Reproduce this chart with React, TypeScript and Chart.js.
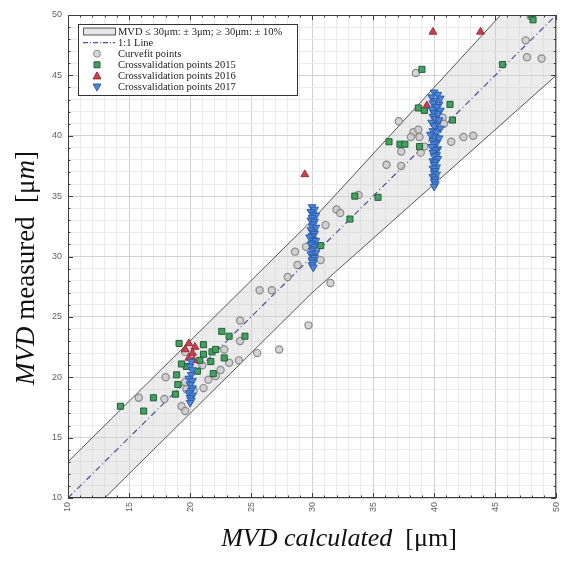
import React, { useEffect, useRef } from 'react';
import { Chart, registerables } from 'chart.js';

Chart.register(...registerables);

// ---- axis / tick data ----
const axisMin = 10;
const axisMax = 50;
const majorTicks = [10, 15, 20, 25, 30, 35, 40, 45, 50];

// ---- tolerance band (MVD <= 30: +-3um, >= 30: +-10%) ----
const bandX = [10, 30, 50];
const bandUpper = [13, 33, 55];
const bandLower = [7, 27, 45];

// ---- 1:1 line ----
const identityX = [10, 50];
const identityY = [10, 50];

// ---- Curvefit points ----
const curvefitPoints: [number, number][] = [
  [15.8, 18.3], [17.9, 18.2], [18.0, 20.0], [19.3, 17.6], [19.6, 17.2], [19.6, 22.1],
  [19.6, 19.6], [19.7, 19.0], [20.3, 18.9], [21.1, 19.1], [21.5, 19.8], [22.1, 20.1],
  [22.5, 20.6], [22.8, 22.3], [23.2, 21.2], [24.0, 21.4], [24.1, 24.7], [24.1, 23.0],
  [21.0, 21.0], [25.5, 22.0], [27.3, 22.3],
  [25.7, 27.2], [26.7, 27.2], [28.0, 28.3], [28.8, 29.3], [28.6, 30.4], [29.7, 24.3],
  [29.5, 30.8], [31.1, 32.6], [30.7, 29.7], [31.5, 27.8], [32.0, 33.9], [32.3, 33.6],
  [33.8, 35.1],
  [38.5, 45.2], [37.1, 41.2], [38.3, 40.3], [38.7, 40.5], [38.1, 39.9], [38.8, 39.9],
  [39.2, 39.1], [38.9, 38.6], [37.3, 38.7], [36.1, 37.6], [37.3, 37.5], [40.7, 41.5],
  [40.8, 41.0], [41.4, 39.5], [42.4, 39.9], [43.2, 40.0],
  [47.5, 47.9], [47.6, 46.5], [48.8, 46.4], [47.9, 49.9],
];

// ---- Crossvalidation points 2015 ----
const cv2015: [number, number][] = [
  [14.3, 17.6], [16.2, 17.2], [17.0, 18.3], [18.8, 18.6], [19.0, 19.4], [18.9, 20.2],
  [19.1, 22.8], [19.7, 20.9], [20.6, 20.5], [21.1, 22.7], [21.1, 21.9], [21.9, 20.3],
  [21.8, 22.1], [22.1, 22.3], [21.7, 21.3], [22.6, 23.8], [23.2, 23.4], [22.8, 21.6],
  [24.5, 23.4], [19.3, 21.1], [20.8, 21.4],
  [30.7, 30.9], [33.1, 33.1], [33.5, 35.0], [35.4, 34.9],
  [39.0, 45.5], [38.7, 42.3], [39.2, 42.1], [41.3, 42.6], [41.5, 41.3], [36.3, 39.5],
  [37.2, 39.3], [37.6, 39.3], [38.8, 39.1],
  [45.6, 45.9], [48.0, 50.0], [48.1, 49.6],
];

// ---- Crossvalidation points 2016 ----
const cv2016: [number, number][] = [
  [19.9, 22.8], [20.4, 22.5], [19.6, 22.3], [20.2, 22.0], [19.9, 21.6], [20.3, 21.4],
  [29.4, 36.8], [39.4, 42.5], [39.9, 48.6], [43.8, 48.6],
];

// ---- Crossvalidation points 2017 ----
const cv2017: [number, number][] = [
  [20.1, 21.3], [20.0, 20.9], [20.2, 20.6], [20.1, 20.2], [19.9, 19.9], [20.2, 19.7],
  [20.0, 19.4], [20.2, 19.1], [20.1, 18.9], [19.9, 18.7], [20.2, 18.5], [20.0, 18.3],
  [20.1, 18.1], [20.0, 17.9],
  [30.0, 34.1], [30.2, 33.9], [29.9, 33.7], [30.1, 33.5], [30.3, 33.4], [30.0, 33.2],
  [29.9, 33.0], [30.2, 32.9], [30.1, 32.7], [30.0, 32.5], [30.3, 32.4], [29.9, 32.2],
  [30.1, 32.0], [30.2, 31.9], [30.0, 31.7], [29.8, 31.6], [30.1, 31.4], [30.3, 31.3],
  [30.0, 31.1], [29.9, 31.0], [30.2, 30.8], [30.1, 30.6], [30.0, 30.5], [30.3, 30.3],
  [29.9, 30.2], [30.1, 30.0], [30.2, 29.9], [30.0, 29.7], [30.1, 29.5], [30.0, 29.3],
  [30.1, 29.1],
  [40.0, 43.6], [40.3, 43.4], [39.8, 43.2], [40.5, 43.1], [40.1, 42.9], [39.9, 42.7],
  [40.4, 42.6], [40.2, 42.4], [39.8, 42.2], [40.5, 42.1], [40.0, 41.9], [40.3, 41.8],
  [39.9, 41.6], [40.1, 41.4], [40.4, 41.3], [39.8, 41.1], [40.2, 40.9], [40.0, 40.8],
  [40.5, 40.6], [39.9, 40.4], [40.2, 40.3], [39.7, 40.1], [40.1, 39.9], [40.4, 39.8],
  [39.9, 39.6], [40.2, 39.4], [40.0, 39.3], [39.8, 39.1], [40.3, 38.9], [40.1, 38.8],
  [39.9, 38.6], [40.2, 38.4], [40.0, 38.3], [40.3, 38.1], [39.9, 37.9], [40.1, 37.8],
  [40.0, 37.6], [40.2, 37.4], [39.9, 37.3], [40.1, 37.1], [40.0, 36.9], [40.2, 36.8],
  [39.9, 36.6], [40.1, 36.4], [40.0, 36.2], [40.1, 36.0], [40.0, 35.8],
];

const legendLabels = [
  'MVD \u2264 30\u03bcm: \u00b1 3\u03bcm; \u2265 30\u03bcm: \u00b1 10%',
  '1:1 Line',
  'Curvefit points',
  'Crossvalidation points 2015',
  'Crossvalidation points 2016',
  'Crossvalidation points 2017',
];

const COLORS = {
  band: 'rgba(205,205,205,0.38)',
  bandLine: '#555555',
  identity: '#5a4a9c',
  grayFill: 'rgba(200,200,200,0.75)',
  grayEdge: '#8a8a8a',
  greenFill: '#45a060',
  greenEdge: '#22603a',
  redFill: '#c8414d',
  redEdge: '#9c2a36',
  blueFill: '#4d86d8',
  blueEdge: '#2b5dab',
};

const toXY = (arr: [number, number][]) => arr.map(([x, y]) => ({ x, y }));
const zip = (xs: number[], ys: number[]) => xs.map((x, i) => ({ x, y: ys[i] }));

function drawMarker(ctx: CanvasRenderingContext2D, kind: string, x: number, y: number) {
  ctx.save();
  ctx.lineWidth = 1;
  ctx.beginPath();
  if (kind === 'circle') {
    ctx.arc(x, y, 3.5, 0, Math.PI * 2);
    ctx.fillStyle = COLORS.grayFill; ctx.strokeStyle = COLORS.grayEdge;
  } else if (kind === 'square') {
    ctx.rect(x - 3, y - 3, 6, 6);
    ctx.fillStyle = COLORS.greenFill; ctx.strokeStyle = COLORS.greenEdge;
  } else if (kind === 'up') {
    ctx.moveTo(x, y - 4); ctx.lineTo(x + 4, y + 3); ctx.lineTo(x - 4, y + 3); ctx.closePath();
    ctx.fillStyle = COLORS.redFill; ctx.strokeStyle = COLORS.redEdge;
  } else {
    ctx.moveTo(x, y + 4); ctx.lineTo(x + 4, y - 3); ctx.lineTo(x - 4, y - 3); ctx.closePath();
    ctx.fillStyle = COLORS.blueFill; ctx.strokeStyle = COLORS.blueEdge;
  }
  ctx.fill(); ctx.stroke();
  ctx.restore();
}

function drawMixed(ctx: CanvasRenderingContext2D, parts: { t: string; i: boolean }[], size: number, family: string) {
  const fonts = parts.map(p => `${p.i ? 'italic ' : ''}${size}px ${family}`);
  let total = 0;
  const widths = parts.map((p, k) => { ctx.font = fonts[k]; const w = ctx.measureText(p.t).width; total += w; return w; });
  let cx = -total / 2;
  parts.forEach((p, k) => { ctx.font = fonts[k]; ctx.fillText(p.t, cx, 0); cx += widths[k]; });
}

const decorPlugin = {
  id: 'decor',
  afterDatasetsDraw(chart: any) {
    const { ctx, chartArea: a, scales } = chart;
    const x = scales.x, y = scales.y;
    ctx.save();
    ctx.strokeStyle = '#3c3c3c';
    ctx.lineWidth = 1;
    ctx.beginPath();
    for (const t of x.ticks) {
      const len = majorTicks.includes(t.value) ? 5 : 2.5;
      const px = Math.round(x.getPixelForValue(t.value)) + 0.5;
      ctx.moveTo(px, a.bottom); ctx.lineTo(px, a.bottom - len);
      ctx.moveTo(px, a.top); ctx.lineTo(px, a.top + len);
    }
    for (const t of y.ticks) {
      const len = majorTicks.includes(t.value) ? 5 : 2.5;
      const py = Math.round(y.getPixelForValue(t.value)) + 0.5;
      ctx.moveTo(a.left, py); ctx.lineTo(a.left + len, py);
      ctx.moveTo(a.right, py); ctx.lineTo(a.right - len, py);
    }
    ctx.stroke();
    ctx.strokeRect(a.left + 0.5, a.top + 0.5, a.right - a.left - 1, a.bottom - a.top - 1);
    ctx.restore();
  },
  afterDraw(chart: any) {
    const { ctx, chartArea: a } = chart;
    ctx.save();
    // legend box
    const bx = a.left + 10, by = a.top + 9, bw = 219, bh = 71;
    ctx.fillStyle = '#ffffff';
    ctx.fillRect(bx, by, bw, bh);
    ctx.strokeStyle = '#333333';
    ctx.lineWidth = 1;
    ctx.strokeRect(bx + 0.5, by + 0.5, bw, bh);
    const rowY = (i: number) => by + 7.5 + i * 11.1;
    const mx = bx + 19;
    // band patch
    ctx.fillStyle = '#e6e6e6';
    ctx.fillRect(bx + 5, rowY(0) - 3.5, 32, 7);
    ctx.strokeStyle = '#555';
    ctx.strokeRect(bx + 5.5, rowY(0) - 3.5, 32, 7);
    // 1:1 line
    ctx.strokeStyle = COLORS.identity;
    ctx.lineWidth = 1.2;
    ctx.setLineDash([5, 2, 1, 2]);
    ctx.beginPath(); ctx.moveTo(bx + 5, rowY(1)); ctx.lineTo(bx + 37, rowY(1)); ctx.stroke();
    ctx.setLineDash([]);
    drawMarker(ctx, 'circle', mx, rowY(2));
    drawMarker(ctx, 'square', mx, rowY(3));
    drawMarker(ctx, 'up', mx, rowY(4));
    drawMarker(ctx, 'down', mx, rowY(5));
    ctx.fillStyle = '#222';
    ctx.font = '10.5px "Liberation Serif", serif';
    ctx.textBaseline = 'middle';
    ctx.textAlign = 'left';
    legendLabels.forEach((l, i) => ctx.fillText(l, bx + 40, rowY(i) + 0.5));

    // axis titles
    ctx.fillStyle = '#111';
    ctx.textBaseline = 'alphabetic';
    ctx.textAlign = 'left';
    const fam = '"Liberation Serif", serif';
    ctx.save();
    ctx.translate(339, 546);
    drawMixed(ctx, [{ t: 'MVD calculated', i: true }, { t: '  [\u03bcm]', i: false }], 26, fam);
    ctx.restore();
    ctx.save();
    ctx.translate(34, 268);
    ctx.rotate(-Math.PI / 2);
    drawMixed(ctx, [{ t: 'MVD', i: true }, { t: ' measured  [\u03bc', i: false }, { t: 'm', i: true }, { t: ']', i: false }], 27, fam);
    ctx.restore();
    ctx.restore();
  },
};

export default function App() {
  const ref = useRef<HTMLCanvasElement | null>(null);
  useEffect(() => {
    document.body.style.margin = '0';
    if (!ref.current) return;
    const tickCb = (v: any) => (majorTicks.includes(Number(v)) ? String(v) : '');
    const gridColor = (c: any) => (c.tick && majorTicks.includes(c.tick.value) ? '#d2d2d2' : '#ebebeb');
    const chart = new Chart(ref.current, {
      type: 'scatter',
      data: {
        datasets: [
          {
            label: legendLabels[5], data: toXY(cv2017), pointStyle: 'triangle', pointRotation: 180,
            pointRadius: 4.5, backgroundColor: COLORS.blueFill, borderColor: COLORS.blueEdge, borderWidth: 1,
          },
          {
            label: legendLabels[4], data: toXY(cv2016), pointStyle: 'triangle',
            pointRadius: 4.5, backgroundColor: COLORS.redFill, borderColor: COLORS.redEdge, borderWidth: 1,
          },
          {
            label: legendLabels[3], data: toXY(cv2015), pointStyle: 'rect',
            pointRadius: 4.3, backgroundColor: COLORS.greenFill, borderColor: COLORS.greenEdge, borderWidth: 1,
          },
          {
            label: legendLabels[2], data: toXY(curvefitPoints), pointStyle: 'circle',
            pointRadius: 3.6, backgroundColor: COLORS.grayFill, borderColor: COLORS.grayEdge, borderWidth: 1.2,
          },
          {
            type: 'line', label: legendLabels[1], data: zip(identityX, identityY), borderColor: COLORS.identity,
            borderWidth: 1.2, borderDash: [6, 3, 1, 3], pointRadius: 0, fill: false, clip: 0,
          } as any,
          {
            type: 'line', label: 'upper', data: zip(bandX, bandUpper), borderColor: COLORS.bandLine,
            borderWidth: 1, pointRadius: 0, fill: false, clip: 0, tension: 0,
          } as any,
          {
            type: 'line', label: 'lower', data: zip(bandX, bandLower), borderColor: COLORS.bandLine,
            borderWidth: 1, pointRadius: 0, fill: '-1', backgroundColor: COLORS.band, clip: 0, tension: 0,
          } as any,
        ],
      },
      options: {
        responsive: false,
        animation: false,
        events: [],
        layout: { padding: { top: 15, right: 5, left: 0, bottom: 0 } },
        plugins: { legend: { display: false }, tooltip: { enabled: false } },
        scales: {
          x: {
            type: 'linear', min: axisMin, max: axisMax,
            afterFit: (s: any) => { s.height = 63; },
            ticks: {
              stepSize: 1, autoSkip: false, maxRotation: 90, minRotation: 90, padding: 4,
              callback: tickCb, color: '#606060', font: { size: 9, family: '"Liberation Sans", Arial, sans-serif' },
            },
            grid: { color: gridColor, lineWidth: 1, drawTicks: false },
            border: { display: false },
          },
          y: {
            type: 'linear', min: axisMin, max: axisMax,
            afterFit: (s: any) => { s.width = 68; },
            ticks: {
              stepSize: 1, autoSkip: false, padding: 6,
              callback: tickCb, color: '#606060', font: { size: 9, family: '"Liberation Sans", Arial, sans-serif' },
            },
            grid: { color: gridColor, lineWidth: 1, drawTicks: false },
            border: { display: false },
          },
        },
      },
      plugins: [decorPlugin],
    } as any);
    return () => chart.destroy();
  }, []);
  return (
    <div style={{ width: 571, height: 561, background: '#fff' }}>
      <canvas ref={ref} width={571} height={561} style={{ display: 'block' }} />
    </div>
  );
}
